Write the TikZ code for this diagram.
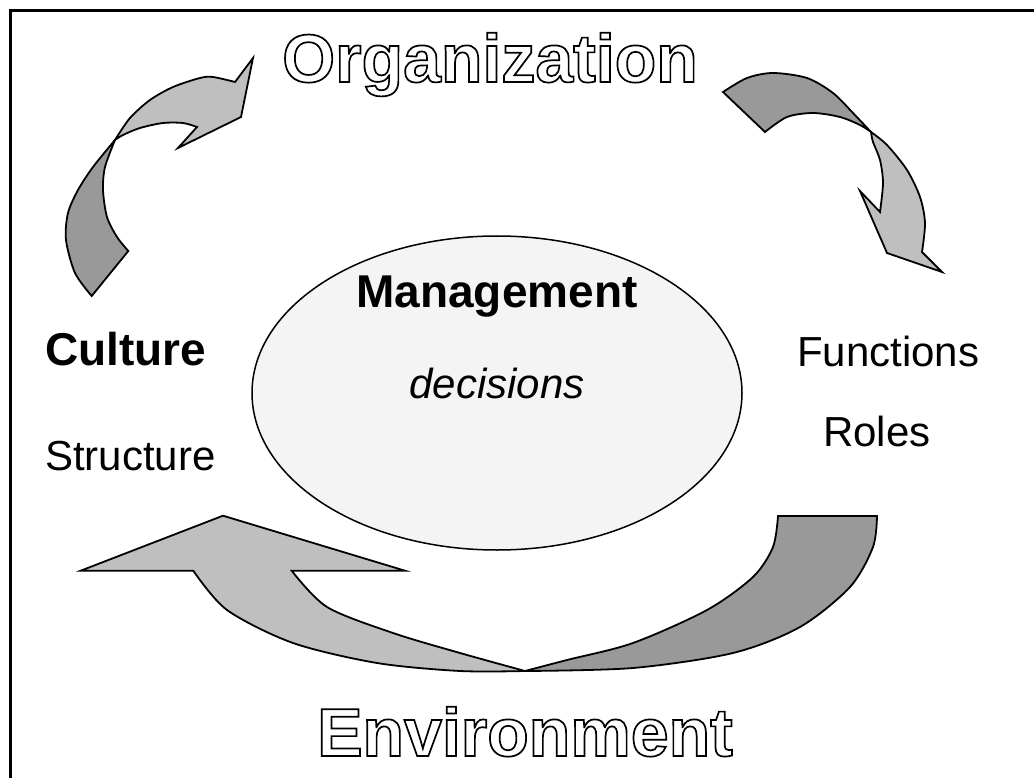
\documentclass[tikz,border=0pt]{standalone}
\usepackage{fontspec}
\setmainfont{Liberation Sans}
\usetikzlibrary{shapes.geometric}
\definecolor{darkarrow}{HTML}{999999}
\definecolor{lightarrow}{HTML}{BFBFBF}
\definecolor{ellfill}{HTML}{F4F4F4}
\newcommand{\hollowtext}[1]{\special{pdf:literal direct 1 Tr 1.7 w}#1\special{pdf:literal direct 0 Tr}}
\tikzset{
  arrowpart/.style={draw=black, line width=1.8pt, line join=miter},
  dark/.style={arrowpart, fill=darkarrow},
  light/.style={arrowpart, fill=lightarrow},
  regtext/.style={inner sep=0pt, font=\fontsize{42}{50}\selectfont},
  boldtext/.style={inner sep=0pt, font=\fontsize{46}{54}\selectfont\bfseries},
  outlinetext/.style={inner sep=0pt, font=\fontsize{68}{80}\selectfont\bfseries},
}
\begin{document}
\begin{tikzpicture}[x=1pt,y=-1pt]
\useasboundingbox (0,0) rectangle (1034,778);
\fill[white] (0,0) rectangle (1034,778);
% frame
\draw[line width=3.5pt] (10.7,778) -- (10.7,10.3) -- (1034,10.3);

% central ellipse
\node[ellipse, draw, line width=1.5pt, fill=ellfill, minimum width=490pt, minimum height=314pt, inner sep=0pt] (mgmt) at (497,393) {};

% top-left arrow
\draw[dark] plot[smooth] coordinates {(91.7,296) (75,273) (66,240) (68,213) (78,190) (93,167) (115,140)}
  -- plot[smooth] coordinates {(115,140) (105,167) (103,190) (107,217) (117,237) (128.3,251)} -- cycle;
\draw[light] plot[smooth] coordinates {(115,140) (130,118) (150,100) (173,87) (200,78) (213,77) (235,82)}
  -- (253,58) -- (241,117) -- (178,148) -- (197,127)
  -- plot[smooth] coordinates {(197,127) (183,123) (163,123) (140,128) (123,135) (115,140)} -- cycle;

% top-right arrow
\draw[dark] (723,92) -- plot[smooth] coordinates {(723,92) (747,78) (773,73) (807,78) (833,93) (853,113) (871,132)}
  -- plot[smooth] coordinates {(871,132) (860,125) (840,117) (813,113) (787,117) (765,132)} -- cycle;
\draw[light] plot[smooth] coordinates {(871,132) (887,145) (907,170) (920,197) (925,223) (922,252)}
  -- (942,272) -- (887,253) -- (860,191)
  -- plot[smooth] coordinates {(880,212) (883,183) (880,160) (873,142) (871,132)} -- cycle;

% bottom arrow
\draw[light] plot[smooth] coordinates {(193.3,570.7) (227,610) (293,643) (377,663) (460,671) (525,671)}
  -- plot[smooth] coordinates {(525,671) (460,653) (393,633) (327,607) (291.7,570.7)}
  -- (405,570.7) -- (223,515.7) -- (80.7,570.7) -- cycle;
\draw[dark] plot[smooth] coordinates {(525,671) (567,660) (633,643) (707,610) (753,577) (773,547) (778,516)}
  -- (877,516)
  -- plot[smooth] coordinates {(877,516) (873,547) (850,587) (800,627) (733,653) (633,668) (525,671)} -- cycle;

% texts
\node[outlinetext, anchor=base] (org) at (490,82) {\hollowtext{Organization}};
\node[outlinetext, anchor=base] (env) at (525,756) {\hollowtext{Environment}};
\node[boldtext, anchor=base] (mtitle) at (497,308) {Management};
\node[regtext, anchor=base, font=\fontsize{42}{50}\selectfont\itshape] (dec) at (497,398) {decisions};
\node[boldtext, anchor=base west] (cult) at (45,365) {Culture};
\node[regtext, anchor=base west] (struct) at (45,470) {Structure};
\node[regtext, anchor=base west] (func) at (797,366) {Functions};
\node[regtext, anchor=base west] (roles) at (823,446) {Roles};
\end{tikzpicture}
\end{document}
